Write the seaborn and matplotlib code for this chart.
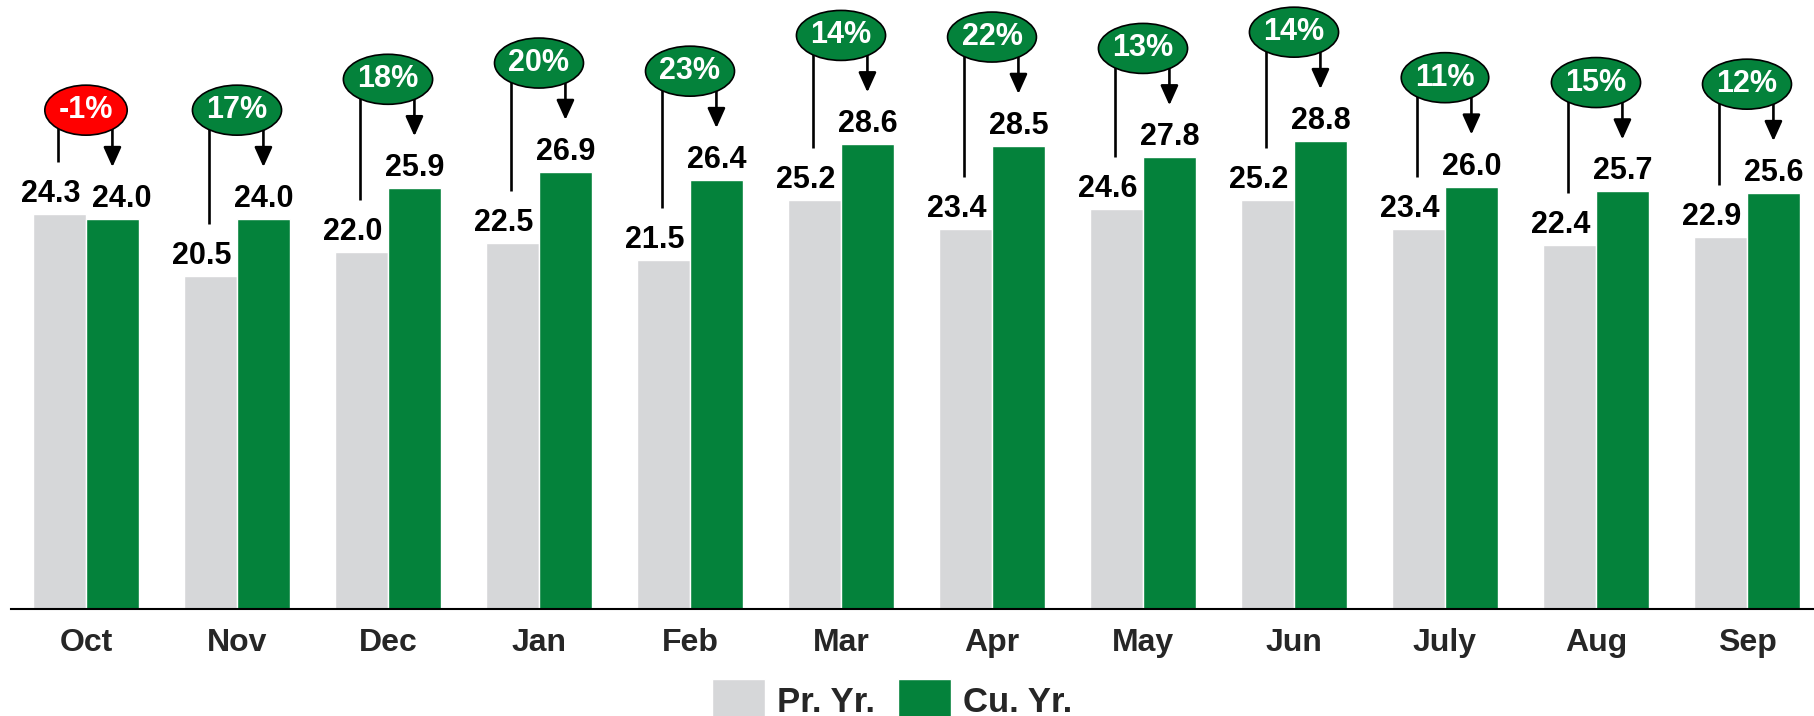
import pandas as pd
import seaborn as sns
import matplotlib.pyplot as plt
from matplotlib.patches import Ellipse, Patch

months = ['Oct', 'Nov', 'Dec', 'Jan', 'Feb', 'Mar', 'Apr', 'May', 'Jun', 'July', 'Aug', 'Sep']
prev_year = [24.3, 20.5, 22.0, 22.5, 21.5, 25.2, 23.4, 24.6, 25.2, 23.4, 22.4, 22.9]
curr_year = [24.0, 24.0, 25.9, 26.9, 26.4, 28.6, 28.5, 27.8, 28.8, 26.0, 25.7, 25.6]
growth = [-1, 17, 18, 20, 23, 14, 22, 13, 14, 11, 15, 12]
series = ['Pr. Yr.', 'Cu. Yr.']

GRAY = '#D6D7D9'
GREEN = '#04823B'
RED = '#FF0000'


def create_plot():
    df = pd.DataFrame({
        'month': months * 2,
        'series': [series[0]] * len(months) + [series[1]] * len(months),
        'value': prev_year + curr_year,
    })

    sns.set_theme(style='white')
    plt.rcParams['font.family'] = ['Liberation Sans', 'DejaVu Sans']
    plt.rcParams['font.weight'] = 'bold'

    fig = plt.figure(figsize=(18.14, 7.16), dpi=100)
    ax = fig.add_axes([10.5 / 1814, 1 - 609 / 716, 12 * 151 / 1814, 609 / 716])

    palette = {series[0]: GRAY, series[1]: GREEN}
    sns.barplot(data=df, x='month', y='value', hue='series', order=months,
                hue_order=series, palette=palette, width=0.7, saturation=1,
                legend=False, ax=ax)

    ax.set_xlim(-0.5, 11.5)
    ax.set_ylim(0, 37.48)
    ax.set_xlabel('')
    ax.set_ylabel('')
    ax.set_yticks([])
    for s in ['top', 'left', 'right']:
        ax.spines[s].set_visible(False)
    ax.spines['bottom'].set_color('black')
    ax.spines['bottom'].set_linewidth(1.5)
    ax.tick_params(axis='x', length=0, pad=14, labelsize=23)
    for lbl in ax.get_xticklabels():
        lbl.set_fontweight('bold')

    # value labels
    for i, (p, c) in enumerate(zip(prev_year, curr_year)):
        ax.annotate(f'{p:.1f}', (i - 0.232, p), xytext=(0, 12), textcoords='offset pixels',
                    ha='center', va='baseline', fontsize=22, fontweight='bold', color='black')
        nudge = 0.065 if abs(c - p) < 1 else 0.0
        ax.annotate(f'{c:.1f}', (i + 0.175 + nudge, c), xytext=(0, 12), textcoords='offset pixels',
                    ha='center', va='baseline', fontsize=22, fontweight='bold', color='black')

    # growth bubbles
    bubble_texts = []
    for i, (p, c, g) in enumerate(zip(prev_year, curr_year, growth)):
        yc = c + 6.7
        t = ax.text(i, yc, f'{g}%', ha='center', va='center', fontsize=22,
                    fontweight='bold', color='white', zorder=6)
        bubble_texts.append(t)
        ax.plot([i - 0.183, i - 0.183], [yc, p + 3.2], color='black', lw=1.9,
                zorder=3, solid_capstyle='butt')
        ax.annotate('', xy=(i + 0.175, c + 3.2), xytext=(i + 0.175, yc),
                    arrowprops=dict(arrowstyle='-|>,head_length=0.6,head_width=0.27',
                                    mutation_scale=20, color='black', lw=1.9,
                                    shrinkA=0, shrinkB=0),
                    zorder=3)

    fig.canvas.draw()
    px_per_unit = ax.transData.transform((1, 0))[0] - ax.transData.transform((0, 0))[0]
    px_per_y = ax.transData.transform((0, 1))[1] - ax.transData.transform((0, 0))[1]
    for i, (t, c, g) in enumerate(zip(bubble_texts, curr_year, growth)):
        w = (t.get_window_extent().width + 28) / px_per_unit
        h = 50 / px_per_y
        ell = Ellipse((i, c + 6.7), w, h, facecolor=RED if g < 0 else GREEN,
                      edgecolor='black', lw=1.2, zorder=5)
        ax.add_patch(ell)

    handles = [Patch(facecolor=GRAY, label=series[0]), Patch(facecolor=GREEN, label=series[1])]
    fig.legend(handles=handles, loc='upper center', bbox_to_anchor=(0.4917, 1 - 679 / 716),
               ncol=2, frameon=False, prop={'size': 25, 'weight': 'bold'},
               handlelength=1.53, handleheight=1.53, handletextpad=0.35,
               columnspacing=0.66, borderpad=0, borderaxespad=0)

    fig.savefig('out.png', dpi=100)


if __name__ == '__main__':
    create_plot()
